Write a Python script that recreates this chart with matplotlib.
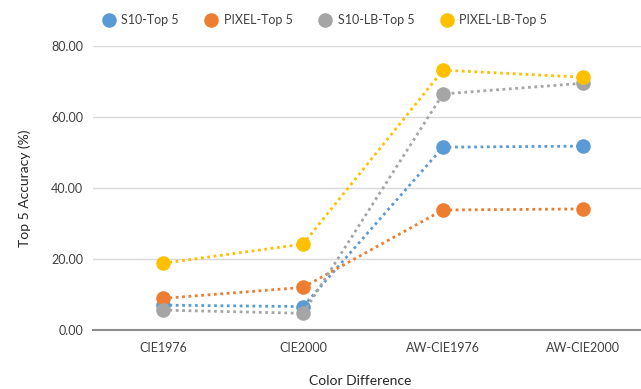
import matplotlib
matplotlib.use("Agg")
import matplotlib.pyplot as plt
from matplotlib.lines import Line2D

plt.rcParams['font.family'] = ['Lato', 'DejaVu Sans']

categories = ["CIE1976", "CIE2000", "AW-CIE1976", "AW-CIE2000"]
series_names = ["S10-Top 5", "PIXEL-Top 5", "S10-LB-Top 5", "PIXEL-LB-Top 5"]
s10_top5 = [7.0, 6.6, 51.5, 51.8]
pixel_top5 = [8.9, 12.0, 33.8, 34.1]
s10_lb_top5 = [5.6, 4.7, 66.5, 69.5]
pixel_lb_top5 = [18.8, 24.2, 73.2, 71.2]
yticks = [0, 20, 40, 60, 80]

colors = ["#5B9BD5", "#ED7D31", "#A5A5A5", "#FFC000"]
W, H = 641, 389
fig = plt.figure(figsize=(W / 100, H / 100), dpi=100)
left, right = 93, 653
bottom, top = 330, 46
ax = fig.add_axes([left / W, (H - bottom) / H, (right - left) / W, (bottom - top) / H])

x = list(range(len(categories)))
data = [s10_top5, pixel_top5, s10_lb_top5, pixel_lb_top5]
for vals, c in zip(data, colors):
    ax.plot(x, vals, color=c, linestyle=(0, (1, 1.3)), linewidth=2.0,
            marker='o', markersize=10.5, markeredgewidth=0, zorder=3)

ax.set_xlim(-0.5, 3.5)
ax.set_ylim(0, 80)
ax.set_yticks(yticks)
ax.set_yticklabels([f"{v:.2f}" for v in yticks])
ax.set_xticks(x)
ax.set_xticklabels(categories)
ax.grid(axis='y', color='#D9D9D9', linewidth=1.0, zorder=0)
ax.set_axisbelow(True)
for s in ['top', 'right', 'left']:
    ax.spines[s].set_visible(False)
ax.spines['bottom'].set_color('#8C8C8C')
ax.spines['bottom'].set_linewidth(1.5)
ax.tick_params(axis='both', length=0, labelsize=9, colors='#404040', pad=6)
ax.tick_params(axis='x', pad=9)
ax.tick_params(axis='y', pad=7)

fig.text(25 / W, 1 - 188 / H, "Top 5 Accuracy (%)", rotation=90, ha='center', va='center',
         fontsize=10, color='#262626')
fig.text(360 / W, 1 - 381 / H, "Color Difference", ha='center', va='center',
         fontsize=10, color='#262626')

handles = [Line2D([], [], color=c, marker='o', linestyle='none', markersize=10.5,
                  markeredgewidth=0) for c in colors]
fig.legend(handles, series_names, loc='center left', bbox_to_anchor=(91 / W, 1 - 20 / H),
           ncol=4, frameon=False, fontsize=9, handlelength=1.0, handletextpad=0.5,
           columnspacing=2.1, labelcolor='#404040')

fig.savefig("out.png", dpi=100)
